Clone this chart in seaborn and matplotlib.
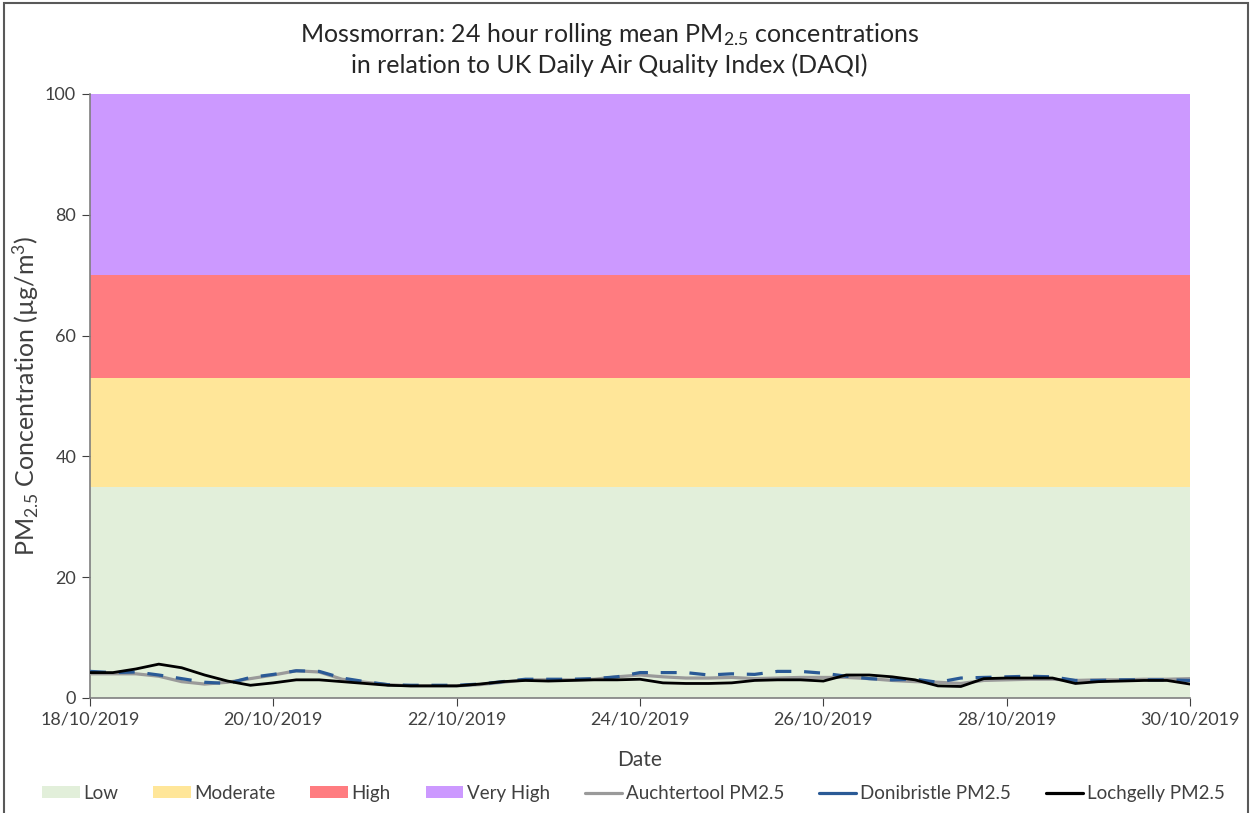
import matplotlib
matplotlib.use("Agg")
import matplotlib.pyplot as plt
import matplotlib.dates as mdates
import matplotlib.patches as patches
from matplotlib.lines import Line2D
import seaborn as sns
import pandas as pd

# DAQI bands for PM2.5 (ug/m3)
band_names = ["Low", "Moderate", "High", "Very High"]
band_lower = [0, 35, 53, 70]
band_upper = [35, 53, 70, 100]
band_colors = ["#e2efda", "#ffe699", "#ff7c80", "#cc99ff"]

# 6-hourly readings of the 24 hour rolling mean, 18/10/2019 00:00 to 30/10/2019 00:00
auchtertool = [4.0, 4.0, 4.0, 3.6, 2.7, 2.3, 2.6, 3.2, 3.8, 4.5, 4.3, 3.1, 2.6,
               2.2, 2.0, 2.0, 2.0, 2.2, 2.6, 3.0, 3.0, 3.0, 3.1, 3.5, 3.8, 3.5,
               3.3, 3.3, 3.4, 3.2, 3.3, 3.4, 3.4, 3.4, 3.2, 2.9, 2.7, 2.6, 2.4,
               2.9, 3.0, 3.1, 3.1, 2.9, 3.0, 3.0, 3.1, 3.1, 3.2]
donibristle = [4.4, 4.2, 4.3, 3.8, 3.2, 2.6, 2.4, 3.4, 3.9, 4.5, 4.4, 3.3, 2.7,
               2.2, 2.1, 2.1, 2.1, 2.3, 2.7, 3.1, 3.1, 3.1, 3.2, 3.5, 4.2, 4.2,
               4.2, 3.8, 4.0, 3.9, 4.4, 4.4, 4.1, 3.6, 3.2, 3.0, 3.1, 2.6, 3.3,
               3.4, 3.5, 3.6, 3.5, 2.9, 2.9, 3.0, 3.0, 3.0, 2.9]
lochgelly = [4.2, 4.2, 4.8, 5.6, 5.0, 3.8, 2.8, 2.1, 2.5, 3.0, 3.0, 2.7, 2.4,
             2.1, 2.0, 2.0, 2.0, 2.3, 2.7, 2.9, 2.8, 2.9, 3.0, 3.0, 3.1, 2.5,
             2.4, 2.4, 2.5, 2.9, 3.0, 3.0, 2.8, 3.8, 3.8, 3.5, 3.0, 2.0, 1.9,
             3.2, 3.3, 3.3, 3.3, 2.4, 2.7, 2.8, 2.9, 2.9, 2.3]

times = pd.date_range("2019-10-18", "2019-10-30", freq="6h")
df = pd.DataFrame({"Date": times, "Auchtertool": auchtertool,
                   "Donibristle": donibristle, "Lochgelly": lochgelly})

sns.set_style("ticks")
plt.rcParams["font.family"] = ["Lato", "DejaVu Sans"]
plt.rcParams["mathtext.fontset"] = "custom"
plt.rcParams["mathtext.rm"] = "Lato"
plt.rcParams["mathtext.it"] = "Lato"
plt.rcParams["mathtext.default"] = "rm"

fig = plt.figure(figsize=(12.52, 8.13), dpi=100)
ax = fig.add_axes([0.0719, 0.1415, 0.8786, 0.7429])

for lo, hi, c in zip(band_lower, band_upper, band_colors):
    ax.axhspan(lo, hi, color=c, lw=0, zorder=0)

sns.lineplot(data=df, x="Date", y="Auchtertool", ax=ax, color="#9a9a9a", lw=2.3, zorder=3)
sns.lineplot(data=df, x="Date", y="Donibristle", ax=ax, color="#2a5a96", lw=2.3,
             dashes=(5, 4), zorder=4)
sns.lineplot(data=df, x="Date", y="Lochgelly", ax=ax, color="black", lw=2.0, zorder=5)

ax.set_xlim(times[0], times[-1])
ax.set_ylim(0, 100)
ax.set_yticks(range(0, 101, 20))
ax.xaxis.set_major_locator(mdates.DayLocator(interval=2))
ax.xaxis.set_major_formatter(mdates.DateFormatter("%d/%m/%Y"))
ax.tick_params(labelsize=13, colors="#404040", length=6, direction="out", pad=4)
for s in ["top", "right"]:
    ax.spines[s].set_visible(False)
for s in ["left", "bottom"]:
    ax.spines[s].set_color("#7f7f7f")
    ax.spines[s].set_linewidth(1.2)

ax.set_xlabel("Date", fontsize=15, color="#404040", labelpad=16)
ax.set_ylabel("PM$_{2.5}$ Concentration (µg/m$^3$)", fontsize=18, color="#404040")
ax.yaxis.set_label_coords(-0.045, 0.5)

fig.text(0.487, 0.957, "Mossmorran: 24 hour rolling mean PM$_{2.5}$ concentrations",
         ha="center", va="center", fontsize=18, color="#262626")
fig.text(0.487, 0.92, "in relation to UK Daily Air Quality Index (DAQI)",
         ha="center", va="center", fontsize=18, color="#262626")

handles = [patches.Patch(facecolor=c, edgecolor="none") for c in band_colors]
handles += [Line2D([], [], color="#9a9a9a", lw=2.3),
            Line2D([], [], color="#2a5a96", lw=2.3),
            Line2D([], [], color="black", lw=2.3)]
labels = band_names + ["Auchtertool PM2.5", "Donibristle PM2.5", "Lochgelly PM2.5"]
leg = fig.legend(handles, labels, loc="center", bbox_to_anchor=(0.506, 0.024), ncol=7,
                 frameon=False, fontsize=13.5, handlelength=2.0, handleheight=0.6,
                 handletextpad=0.2, columnspacing=1.85)
for t in leg.get_texts():
    t.set_color("#404040")

fig.patches.append(patches.Rectangle((0.003, -0.01), 0.994, 1.006, transform=fig.transFigure,
                                     fill=False, edgecolor="#595959", lw=1.5))

fig.savefig("out.png", dpi=100)
